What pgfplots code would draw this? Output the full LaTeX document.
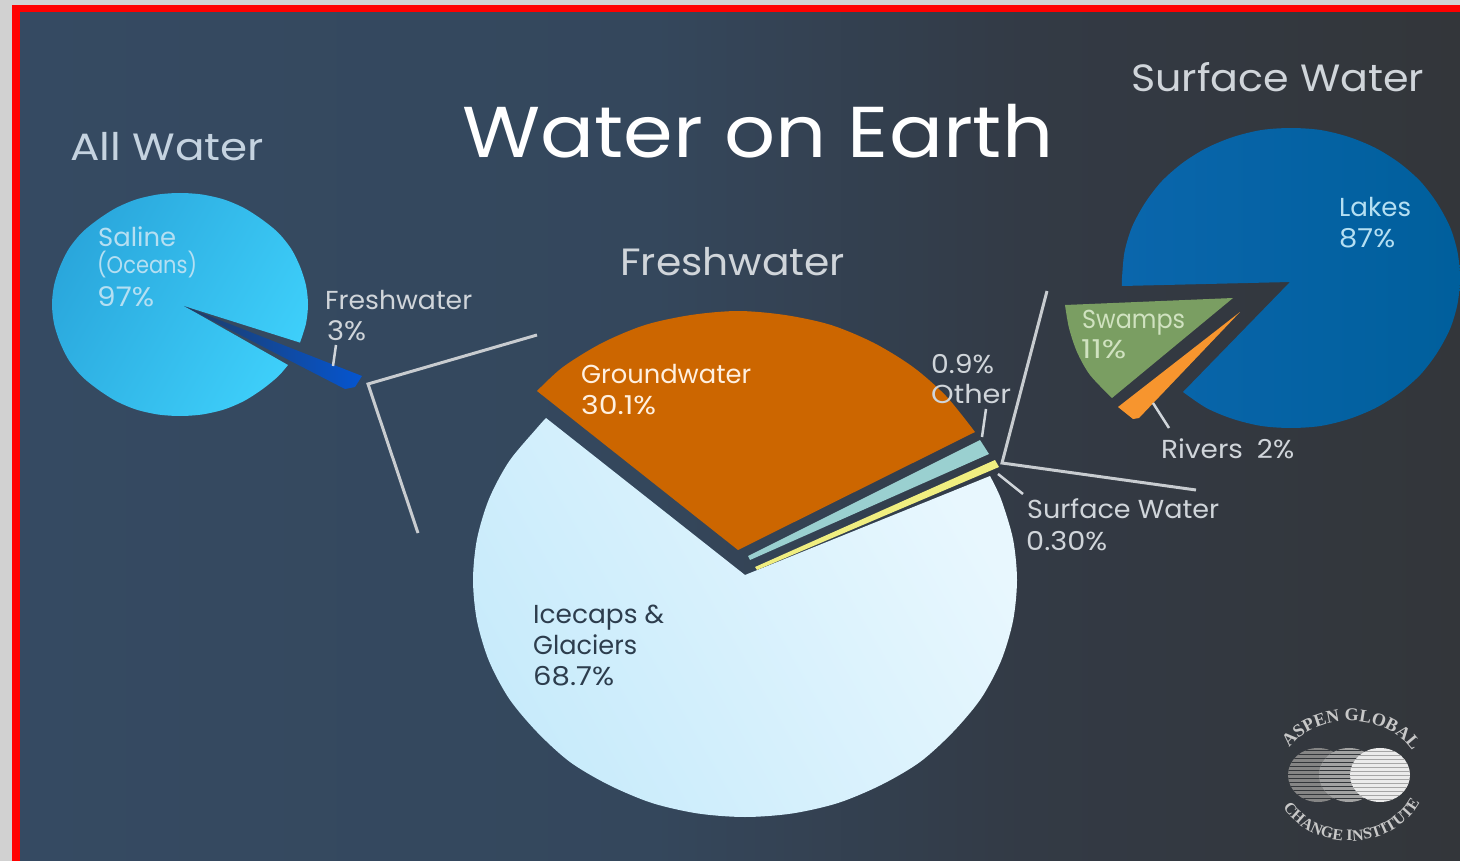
\documentclass[border=0pt]{standalone}
\usepackage{graphicx}
\usepackage{fontspec}
\setmainfont{Poppins}
\newfontfamily\logofont{Liberation Serif}
\usepackage{pgfplots}
\pgfplotsset{compat=1.18}
\usetikzlibrary{decorations.text}
\definecolor{bgA}{HTML}{354A62}
\definecolor{bgB}{HTML}{34475C}
\definecolor{bgC}{HTML}{333A45}
\definecolor{bgD}{HTML}{33363A}
\definecolor{salA}{HTML}{2AA7DC}
\definecolor{salB}{HTML}{3ECFFA}
\definecolor{wedgeA}{HTML}{1E3C66}
\definecolor{wedgeB}{HTML}{0555D0}
\definecolor{iceA}{HTML}{C8EBFB}
\definecolor{iceB}{HTML}{E8F7FE}
\definecolor{ground}{HTML}{CC6600}
\definecolor{otherc}{HTML}{9AD0D0}
\definecolor{yellowc}{HTML}{F0EE80}
\definecolor{lakeA}{HTML}{0A66AC}
\definecolor{lakeB}{HTML}{005F9C}
\definecolor{swamp}{HTML}{7A9E62}
\definecolor{river}{HTML}{F7952E}
\definecolor{brk}{HTML}{C8CCD0}
\definecolor{lblA}{HTML}{C5D3E0}
\definecolor{lblB}{HTML}{B5DFF2}
\definecolor{lblC}{HTML}{D0D5DA}
\definecolor{lblG}{HTML}{FFF0E0}
\definecolor{lblS}{HTML}{D0E2C0}
\definecolor{lblI}{HTML}{2D3D4D}
\definecolor{logoc}{HTML}{C8C8C8}
\pgfdeclarehorizontalshading{bgshade}{100bp}{color(0bp)=(bgA); color(25bp)=(bgA); color(47bp)=(bgB); color(60bp)=(bgC); color(75bp)=(bgD); color(100bp)=(bgD)}
\newcommand{\lab}[6]{% x, baseline, width, size, colour, text
  \node[anchor=base west,inner sep=0pt,text=#5] at (axis cs:#1,#2)
    {\resizebox{#3pt}{\height}{\fontsize{#4pt}{#4pt}\selectfont #6}};}
\begin{document}
\begin{tikzpicture}[x=1pt,y=1pt]
\useasboundingbox (0,0) rectangle (1460,861);
\clip (0,0) rectangle (1460,861);
\fill[black!18] (0,0) rectangle (1460,861);
\fill[red] (12,0) rectangle (1460,856);
\shade[shading=bgshade] (20,0) rectangle (1460,848);
\begin{axis}[at={(0,0)},anchor=south west,scale only axis,width=1460pt,height=861pt,
  xmin=0,xmax=1460,ymin=0,ymax=861,y dir=reverse,axis lines=none,clip=false]
% ---- All Water
\addplot[smooth,draw=none,left color=salA,right color=salB,shading angle=60] coordinates {
(300,342.6)(306,323.5)(308,304.5)(306,285.5)(300,266.5)(291,248.5)(278,232.5)(262,219.5)(244,208)(224,199.5)(202,194.5)(180,193)(158,194.5)(136,199.5)(116,208)(98,219.5)(82,232.5)(69,248.5)(60,266.5)(54,285.5)(52,304.5)(54,323.5)(60,342.5)(69,360.5)(82,376.5)(98,389.5)(116,401)(136,409.5)(158,414.5)(180,416)(202,414.5)(224,409.5)(244,401)(262,389.5)(278,376.5)(288,365)} -- (axis cs:184,306) -- cycle;
\addplot[draw=none,left color=wedgeA,right color=wedgeB] coordinates {(184,306)(362,376)(355,387)(345,389)} --cycle;
\addplot[line width=2.5pt,color=lblC] coordinates {(336,345)(333,366)};
\addplot[line width=3pt,color=brk] coordinates {(537,335)(368,384)(418,533)};
% ---- Freshwater
\addplot[smooth,draw=none,left color=iceA,right color=iceB,shading angle=120] coordinates {
(990,476)(1001,499)(1013,539)(1017,580)(1013,621)(1001,661)(981,698.5)(953,732)(920,762)(881,785)(838,803)(792,813.5)(745,817)(698,813.5)(652,803)(609,785)(570,762)(537,732)(509,698.5)(489,661)(477,621)(473,580)(477,539)(489,499)(509,461.5)(537,428)(546,418)} -- (axis cs:745,575) -- cycle;
\addplot[smooth,draw=none,fill=ground] coordinates {
(975,432)(946,396)(913,367)(874,343)(831,325)(785,315)(738,311)(691,315)(645,325)(602,343)(563,367)(537,391)} -- (axis cs:738,550) -- cycle;
\addplot[draw=none,fill=otherc] coordinates {(748,556)(980,440)(989,454)(750,560)} --cycle;
\addplot[draw=none,fill=yellowc] coordinates {(755,567)(995,460)(999,467)(757,570)} --cycle;
\addplot[line width=2.5pt,color=lblC] coordinates {(986,409)(982,437)};
\addplot[line width=2.5pt,color=lblC] coordinates {(998,474)(1023,494)};
\addplot[line width=3pt,color=brk] coordinates {(1047,291)(1002,463)(1196,490)};
% ---- Surface Water
\addplot[smooth,draw=none,left color=lakeA,right color=lakeB] coordinates {
(1122,286)(1122,278)(1124.5,252)(1132,227)(1145,203)(1161.5,181.5)(1182.5,163)(1206.5,148)(1233,137)(1261.5,130)(1291,128)(1320.5,130)(1349,137)(1375.5,148)(1399.5,163)(1420.5,181.5)(1437,203)(1450,227)(1457.5,252)(1460,278)(1457.5,304)(1450,329)(1437,353)(1420.5,374.5)(1399.5,393)(1375.5,408)(1349,419)(1320.5,426)(1291,428)(1261.5,426)(1233,419)(1206.5,408)(1183,392)} -- (axis cs:1290,282) -- cycle;
\addplot[smooth,draw=none,fill=swamp] coordinates {(1065,305)(1069,328)(1077,352)(1090,375)(1112,398)} -- (axis cs:1233,298) -- cycle;
\addplot[draw=none,fill=river] coordinates {(1240,312)(1118,407)(1133,419)(1139,418)} --cycle;
\addplot[line width=2.5pt,color=lblC] coordinates {(1153,403)(1169,428)};
% ---- Text
\lab{462}{158}{591}{72}{white}{Water on Earth}
\lab{70}{161}{194}{38}{lblA}{All Water}
\lab{1131}{92}{293}{38}{lblC}{Surface Water}
\lab{620}{276}{225}{38}{lblC}{Freshwater}
\lab{98}{247}{78}{26}{lblB}{Saline}
\lab{97}{274}{100}{24}{lblB}{(Oceans)}
\lab{97}{306}{57}{27}{lblB}{97\%}
\lab{325}{310}{147}{26}{lblC}{Freshwater}
\lab{327}{340}{39}{27}{lblC}{3\%}
\lab{581}{383}{170}{26}{lblG}{Groundwater}
\lab{581}{414}{75}{26}{lblG}{30.1\%}
\lab{931}{373}{63}{26}{lblC}{0.9\%}
\lab{931}{403}{80}{26}{lblC}{Other}
\lab{1082}{328}{103}{26}{lblS}{Swamps}
\lab{1081}{359}{45}{26}{lblS}{11\%}
\lab{1339}{217}{72}{26}{lblB}{Lakes}
\lab{1339}{248}{56}{26}{lblB}{87\%}
\lab{1161}{458}{133}{26}{lblC}{Rivers\hspace{.5em}2\%}
\lab{1027}{518}{192}{26}{lblC}{Surface Water}
\lab{1026}{550}{81}{26}{lblC}{0.30\%}
\lab{533}{623}{131}{26}{lblI}{Icecaps \&}
\lab{533}{654}{104}{26}{lblI}{Glaciers}
\lab{533}{685}{81}{26}{lblI}{68.7\%}
\end{axis}
% ---- Logo (decoration)
\begin{scope}
\clip (1318,86) ellipse [x radius=30,y radius=27];
\fill[black!48] (1280,50) rectangle (1360,120);
\foreach \y in {62,66,...,110} \draw[bgD,line width=1pt] (1280,\y) -- (1360,\y);
\end{scope}
\begin{scope}
\clip (1349,86) ellipse [x radius=30,y radius=27];
\fill[black!36] (1310,50) rectangle (1390,120);
\foreach \y in {62,66,...,110} \draw[bgD,line width=1pt] (1310,\y) -- (1390,\y);
\end{scope}
\begin{scope}
\clip (1380,86) ellipse [x radius=30,y radius=27];
\fill[black!8] (1340,50) rectangle (1420,120);
\foreach \y in {62,66,...,110} \draw[black!35,line width=.6pt] (1340,\y) -- (1420,\y);
\end{scope}
\path[decorate,decoration={text along path,text color=logoc,text align=center,
  text={|\fontsize{18}{18}\selectfont\logofont\bfseries|ASPEN GLOBAL}}]
  (1350,86) ++(165:70 and 54) arc[start angle=165,end angle=12,x radius=70,y radius=54];
\path[decorate,decoration={text along path,text color=logoc,text align=center,
  text={|\fontsize{16}{16}\selectfont\logofont\bfseries|CHANGE INSTITUTE}}]
  (1350,86) ++(190:77 and 66) arc[start angle=190,end angle=355,x radius=77,y radius=66];
\end{tikzpicture}
\end{document}
